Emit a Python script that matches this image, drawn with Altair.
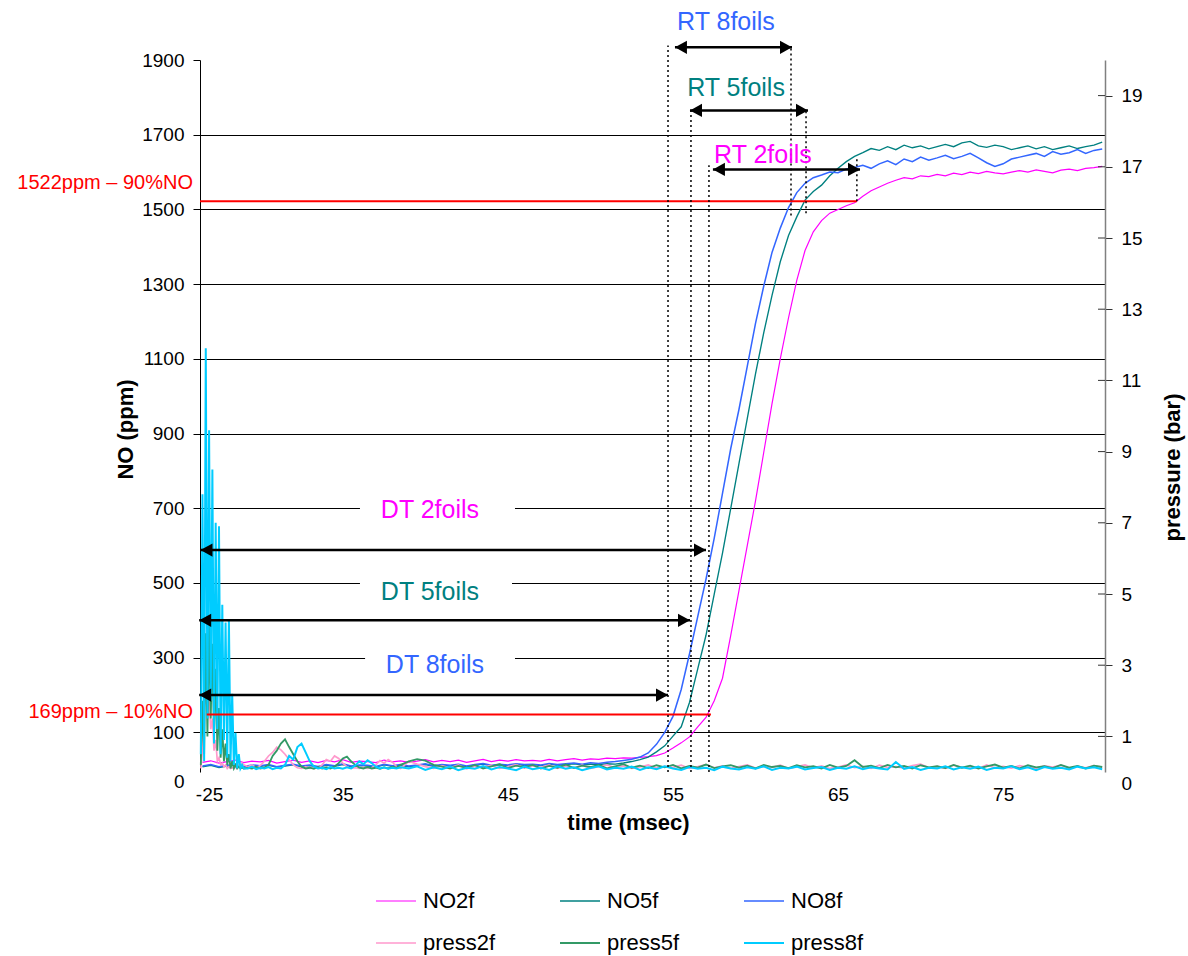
import altair as alt
import pandas as pd

FONT = "Liberation Sans"

# ---------------- NO concentration (ppm), sampled every 0.5 ms from 26.5 ms ----------------
NO_T0, NO_DT = 26.5, 0.5
NO2F = [
    20, 24, 18, 22, 26, 19, 23, 21, 25, 18,
    22, 26, 20, 24, 19, 25, 21, 27, 20, 23,
    22, 19, 26, 21, 24, 20, 23, 27, 21, 25,
    22, 26, 20, 24, 28, 22, 26, 23, 27, 24,
    25, 23, 28, 24, 27, 30, 26, 29, 28, 31,
    30, 32, 31, 33, 35, 38, 45, 58, 72, 88,
    115, 140, 185, 245, 360, 480, 600, 720, 850, 980,
    1100, 1210, 1310, 1390, 1440, 1470, 1490, 1500, 1510, 1518,
    1535, 1550, 1560, 1570, 1578, 1585, 1582, 1590, 1588, 1594,
    1590, 1597, 1593, 1600, 1596, 1602, 1598, 1595, 1600, 1604,
    1600, 1606, 1602, 1598, 1605, 1608, 1604, 1610, 1612, 1615]
NO5F = [
    8, 12, 6, 10, 13, 7, 11, 9, 12, 7,
    10, 13, 8, 11, 7, 12, 9, 14, 8, 11,
    10, 7, 13, 9, 12, 8, 11, 14, 9, 12,
    10, 13, 8, 12, 15, 10, 13, 11, 14, 12,
    13, 11, 15, 12, 14, 16, 13, 15, 14, 16,
    15, 18, 22, 27, 34, 48, 64, 90, 115, 180,
    270, 360, 470, 580, 700, 820, 940, 1060, 1170, 1270,
    1360, 1430, 1480, 1525, 1548, 1565, 1590, 1610, 1628, 1642,
    1652, 1663, 1658, 1668, 1660, 1672, 1665, 1670, 1662, 1668,
    1674, 1668, 1678, 1682, 1670, 1666, 1672, 1668, 1660, 1665,
    1670, 1662, 1668, 1660, 1665, 1670, 1663, 1668, 1672, 1680]
NO8F = [
    10, 14, 8, 12, 15, 9, 13, 11, 14, 8,
    12, 15, 10, 13, 9, 14, 11, 16, 10, 13,
    12, 9, 15, 11, 14, 10, 13, 16, 11, 14,
    12, 15, 10, 14, 17, 12, 15, 13, 16, 14,
    15, 13, 17, 14, 16, 18, 15, 19, 17, 20,
    22, 25, 28, 34, 45, 68, 100, 143, 215, 310,
    410, 510, 620, 740, 860, 965, 1080, 1195, 1295, 1385,
    1450, 1505, 1545, 1570, 1585, 1592, 1600, 1598, 1608, 1612,
    1618, 1610, 1622, 1630, 1620, 1635, 1628, 1640, 1632, 1638,
    1645, 1636, 1642, 1650, 1638, 1625, 1615, 1622, 1635, 1640,
    1645, 1650, 1642, 1655, 1648, 1652, 1660, 1650, 1658, 1662]

# ---------------- pressure (bar) ----------------
# 0.1 ms steps 26.4-29.0, 0.25 ms steps 29.25-38.5, 0.5 ms steps 39-81
P_TIME = ([round(26.4 + 0.1 * i, 2) for i in range(27)]
          + [round(29.25 + 0.25 * i, 2) for i in range(38)]
          + [round(39 + 0.5 * i, 2) for i in range(85)])
PRESS2F = [
    0.1, 0.6, 1.8, 2.3, 1.6, 2.1, 1.2, 1.5, 0.6, 0.9,
    0.3, 0.4, 0.2, 0.25, 0.15, 0.2, 0.1, 0.15, 0.1, 0.12,
    0.1, 0.14, 0.1, 0.2, 0.15, 0.25, 0.2,
    0.15, 0.2, 0.12, 0.18, 0.3, 0.45, 0.55, 0.7, 0.62, 0.5,
    0.35, 0.2, 0.12, 0.1, 0.15, 0.1, 0.13, 0.1, 0.2, 0.35,
    0.3, 0.45, 0.38, 0.25, 0.15, 0.1, 0.12, 0.1, 0.14, 0.1,
    0.12, 0.2, 0.32, 0.25, 0.35, 0.28, 0.15, 0.1,
    0.3, 0.22, 0.15, 0.1, 0.18, 0.12, 0.2, 0.09, 0.16, 0.13,
    0.19, 0.1, 0.15, 0.21, 0.11, 0.17, 0.13, 0.2, 0.1, 0.16,
    0.12, 0.19, 0.1, 0.15, 0.2, 0.12, 0.17, 0.1, 0.14, 0.2,
    0.11, 0.16, 0.13, 0.19, 0.1, 0.15, 0.21, 0.12, 0.17, 0.1,
    0.15, 0.2, 0.11, 0.16, 0.13, 0.19, 0.1, 0.15, 0.2, 0.12,
    0.17, 0.1, 0.14, 0.2, 0.12, 0.16, 0.1, 0.19, 0.13, 0.15,
    0.11, 0.18, 0.22, 0.12, 0.16, 0.1, 0.19, 0.13, 0.15, 0.1,
    0.2, 0.12, 0.16, 0.11, 0.18, 0.13, 0.1, 0.17, 0.14, 0.19,
    0.1, 0.16, 0.12, 0.18, 0.13]
PRESS5F = [
    0.2, 2.0, 0.5, 3.9, 1.0, 4.1, 1.5, 3.6, 1.0, 2.9,
    0.6, 1.8, 0.4, 1.2, 0.3, 0.8, 0.2, 0.5, 0.1, 0.3,
    0.1, 0.2, 0.1, 0.15, 0.1, 0.12, 0.1,
    0.12, 0.1, 0.15, 0.1, 0.12, 0.2, 0.45, 0.6, 0.8, 0.92,
    0.7, 0.5, 0.3, 0.15, 0.1, 0.12, 0.09, 0.14, 0.1, 0.13,
    0.1, 0.15, 0.25, 0.38, 0.43, 0.3, 0.2, 0.12, 0.1, 0.14,
    0.1, 0.12, 0.09, 0.13, 0.1, 0.15, 0.12, 0.2,
    0.3, 0.36, 0.32, 0.2, 0.15, 0.1, 0.17, 0.12, 0.2, 0.1,
    0.16, 0.22, 0.11, 0.18, 0.13, 0.2, 0.1, 0.17, 0.12, 0.21,
    0.11, 0.18, 0.14, 0.2, 0.1, 0.16, 0.22, 0.12, 0.18, 0.11,
    0.19, 0.13, 0.2, 0.1, 0.17, 0.12, 0.21, 0.11, 0.16, 0.19,
    0.12, 0.18, 0.1, 0.2, 0.14, 0.17, 0.11, 0.19, 0.13, 0.16,
    0.1, 0.2, 0.12, 0.17, 0.33, 0.14, 0.18, 0.11, 0.2, 0.13,
    0.17, 0.1, 0.19, 0.13, 0.16, 0.11, 0.2, 0.12, 0.18, 0.1,
    0.16, 0.21, 0.12, 0.17, 0.1, 0.19, 0.13, 0.16, 0.11, 0.2,
    0.12, 0.17, 0.1, 0.18, 0.14]
PRESS8F = [
    0.5, 7.8, 0.3, 11.9, 1.5, 9.6, 2.0, 8.5, 0.8, 7.0,
    1.2, 6.9, 0.5, 4.7, 0.9, 4.2, 0.4, 4.3, 0.3, 2.2,
    0.2, 1.1, 0.1, 0.5, 0.1, 0.2, 0.1,
    0.1, 0.15, 0.08, 0.12, 0.1, 0.14, 0.08, 0.12, 0.1, 0.2,
    0.45, 0.35, 0.7, 0.8, 0.55, 0.3, 0.15, 0.1, 0.12, 0.08,
    0.14, 0.1, 0.12, 0.09, 0.13, 0.1, 0.18, 0.3, 0.22, 0.33,
    0.25, 0.15, 0.1, 0.13, 0.09, 0.12, 0.1, 0.13,
    0.1, 0.16, 0.06, 0.13, 0.08, 0.15, 0.05, 0.12, 0.09, 0.17,
    0.07, 0.14, 0.1, 0.05, 0.15, 0.08, 0.12, 0.06, 0.16, 0.09,
    0.13, 0.05, 0.11, 0.16, 0.07, 0.12, 0.09, 0.15, 0.06, 0.13,
    0.08, 0.16, 0.1, 0.06, 0.14, 0.09, 0.12, 0.05, 0.15, 0.1,
    0.07, 0.13, 0.09, 0.16, 0.06, 0.12, 0.1, 0.15, 0.07, 0.11,
    0.14, 0.06, 0.12, 0.09, 0.16, 0.08, 0.13, 0.1, 0.07, 0.28,
    0.09, 0.14, 0.06, 0.12, 0.1, 0.16, 0.07, 0.13, 0.09, 0.15,
    0.06, 0.12, 0.1, 0.16, 0.08, 0.13, 0.05, 0.14, 0.09, 0.12,
    0.07, 0.15, 0.1, 0.13, 0.08]

SERIES = ["NO2f", "NO5f", "NO8f", "press2f", "press5f", "press8f"]
COLORS = ["#FF00FF", "#008080", "#3366FF", "#FF99CC", "#339966", "#00CCFF"]
WIDTHS = [1.2, 2, 2, 2.5, 2.5, 2.5]

# axis ticks
X_TICKS = [26.9, 35, 45, 55, 65, 75]
YL_TICKS = [0, 100, 300, 500, 700, 900, 1100, 1300, 1500, 1700, 1900]
YR_TICKS = [0, 1, 3, 5, 7, 9, 11, 13, 15, 17, 19]

# ---------------- annotations ----------------
REF_LABEL = ["1522ppm \u2013 90%NO", "169ppm \u2013 10%NO"]
REF_PPM = [1522, 148]
REF_T0 = [26.35, 26.76]
REF_T1 = [66.14, 57.3]
REF_LABEL_PPM = [1570, 154]

DOT_T = [54.70, 56.09, 57.18, 62.15, 63.06, 66.14]
DOT_LO = [-6, -6, -6, 1484, 1490, 1522]
DOT_HI = [1939, 1773, 1618, 1939, 1765, 1640]

ARROW_T0 = [55.12, 56.03, 57.42, 26.38, 26.3, 26.3]
ARROW_T1 = [62.21, 63.18, 66.33, 57.0, 56.03, 54.70]
ARROW_PPM = [1934, 1765, 1607, 588, 400, 200]

LABEL_TEXT = ["RT 8foils", "RT 5foils", "RT 2foils", "DT 2foils", "DT 5foils", "DT 8foils"]
LABEL_T = [58.21, 58.82, 60.45, 40.28, 40.28, 40.58]
LABEL_PPM = [2001, 1825, 1645, 695, 475, 280]
LABEL_COLOR = ["#3366FF", "#008080", "#FF00FF", "#FF00FF", "#008080", "#3366FF"]

BOX_T0 = [36.04, 36.04, 36.35]
BOX_T1 = [45.43, 45.25, 45.43]
BOX_LO = [660, 440, 245]
BOX_HI = [730, 510, 315]

# ---------------- frames ----------------
n = len(NO2F)
no_time = [round(NO_T0 + NO_DT * i, 2) for i in range(n)]
no_df = pd.DataFrame({
    "t": no_time * 3,
    "value": NO2F + NO5F + NO8F,
    "series": ["NO2f"] * n + ["NO5f"] * n + ["NO8f"] * n,
})
m = len(P_TIME)
p_df = pd.DataFrame({
    "t": P_TIME * 3,
    "value": PRESS2F + PRESS5F + PRESS8F,
    "series": ["press2f"] * m + ["press5f"] * m + ["press8f"] * m,
})
rtick_df = pd.DataFrame({"value": YR_TICKS[1:]})
ref_df = pd.DataFrame({"label": REF_LABEL, "ppm": REF_PPM, "t": REF_T0, "t2": REF_T1, "lp": REF_LABEL_PPM})
dot_df = pd.DataFrame({"t": DOT_T, "lo": DOT_LO, "hi": DOT_HI})
arrow_df = pd.DataFrame({"t": ARROW_T0, "t2": ARROW_T1, "ppm": ARROW_PPM})
label_df = pd.DataFrame({"text": LABEL_TEXT, "t": LABEL_T, "ppm": LABEL_PPM, "c": LABEL_COLOR})
box_df = pd.DataFrame({"t": BOX_T0, "t2": BOX_T1, "lo": BOX_LO, "hi": BOX_HI})


def cond(test, a, b):
    return {"condition": {"test": test, "value": a}, "value": b}


x_scale = alt.Scale(domain=[26.35, 81.17], nice=False, zero=False)
x_axis = alt.Axis(
    values=X_TICKS, labelExpr="datum.value < 30 ? '-25' : datum.label",
    domain=False, ticks=False, tickSize=0, grid=False,
    labelFont=FONT, labelFontSize=19, labelColor="black", labelPadding=13,
    title="time (msec)", titleFont=FONT, titleFontSize=22, titleFontWeight="bold",
    titleColor="black", titleX=428, titleY=50, titleAlign="center", titleBaseline="middle",
)
X = alt.X("t:Q", scale=x_scale, axis=x_axis)

yl_scale = alt.Scale(domain=[-6, 1900], nice=False, zero=False)
yl_axis = alt.Axis(
    values=YL_TICKS, format="d", grid=True, gridColor="black", gridWidth=1,
    gridOpacity=cond("datum.value == 0 || datum.value == 1900", 0, 1),
    tickColor="black", tickSize=7, tickWidth=1,
    tickOpacity=cond("datum.value == 0", 0, 1),
    labelOffset=cond("datum.value == 0", 12, 0),
    domainColor="black", domainWidth=1,
    labelFont=FONT, labelFontSize=19, labelColor="black", labelPadding=9,
    title="NO (ppm)", titleFont=FONT, titleFontSize=22, titleFontWeight="bold", titleColor="black",
    titleAngle=270, titleX=-75, titleY=369, titleAlign="center", titleBaseline="middle",
)
yr_scale = alt.Scale(domain=[0, 20], nice=False, zero=False)
yr_axis = alt.Axis(
    orient="right", values=YR_TICKS, format="d", grid=False,
    tickColor="#333333", tickSize=7, tickWidth=1,
    tickOpacity=cond("datum.value == 0", 0, 1),
    labelOffset=cond("datum.value == 0", 11, 0),
    domainColor="#808080", domainWidth=1.5,
    labelFont=FONT, labelFontSize=19, labelColor="black", labelPadding=9,
    title="pressure (bar)", titleFont=FONT, titleFontSize=22, titleFontWeight="bold", titleColor="black",
    titleAngle=270, titleX=67, titleY=407, titleAlign="center", titleBaseline="middle",
)

legend = alt.Legend(
    title=None, orient="none", legendX=175, legendY=820, direction="horizontal", columns=3,
    symbolType="stroke", symbolSize=1600, symbolStrokeWidth=2,
    labelFont=FONT, labelFontSize=22, labelColor="black", labelOffset=6,
    columnPadding=60, rowPadding=10, labelLimit=300,
)
color = alt.Color("series:N", scale=alt.Scale(domain=SERIES, range=COLORS), legend=legend)
swidth = alt.StrokeWidth("series:N", scale=alt.Scale(domain=SERIES, range=WIDTHS), legend=None)

# ---------- left (NO) group ----------
no_lines = alt.Chart(no_df).mark_line(interpolate="linear").encode(
    x=X, y=alt.Y("value:Q", scale=yl_scale, axis=yl_axis), color=color, strokeWidth=swidth,
    detail="series:N",
)
left_group = alt.layer(no_lines)

# ---------- right (pressure) group ----------
p_lines = alt.Chart(p_df).mark_line(interpolate="linear").encode(
    x=X, y=alt.Y("value:Q", scale=yr_scale, axis=yr_axis), color=color, strokeWidth=swidth,
    detail="series:N",
)
inner_ticks = alt.Chart(rtick_df).mark_rule(color="#333333", strokeWidth=1).encode(
    x=alt.value(898), x2=alt.value(905), y=alt.Y("value:Q", scale=yr_scale, axis=yr_axis),
)
right_group = alt.layer(p_lines, inner_ticks)

# ---------- annotation group (NO scale, no axis) ----------
ya_scale = alt.Scale(domain=[-6, 1900], nice=False, zero=False)

boxes = alt.Chart(box_df).mark_rect(color="white").encode(
    x=X, x2="t2:Q", y=alt.Y("lo:Q", scale=ya_scale, axis=None), y2="hi:Q",
)
ref_lines = alt.Chart(ref_df).mark_rule(color="#FF0000", strokeWidth=2).encode(
    x=X, x2="t2:Q", y=alt.Y("ppm:Q", scale=ya_scale, axis=None),
)
ref_labels = alt.Chart(ref_df).mark_text(
    align="right", baseline="middle", color="#FF0000", font=FONT, fontSize=20,
).encode(x=alt.value(-7), y=alt.Y("lp:Q", scale=ya_scale, axis=None), text="label:N")
dots = alt.Chart(dot_df).mark_rule(color="black", strokeWidth=1.5, strokeDash=[2, 3]).encode(
    x=X, y=alt.Y("lo:Q", scale=ya_scale, axis=None), y2="hi:Q",
)
shafts = alt.Chart(arrow_df).mark_rule(color="black", strokeWidth=2.5).encode(
    x=X, x2="t2:Q", y=alt.Y("ppm:Q", scale=ya_scale, axis=None),
)
head_r = alt.Chart(arrow_df).mark_point(
    shape="M0,0L-1,-0.55L-1,0.55Z", filled=True, color="black", opacity=1, size=576, strokeWidth=0,
).encode(x=alt.X("t2:Q", scale=x_scale, axis=x_axis), y=alt.Y("ppm:Q", scale=ya_scale, axis=None))
head_l = alt.Chart(arrow_df).mark_point(
    shape="M0,0L1,-0.55L1,0.55Z", filled=True, color="black", opacity=1, size=576, strokeWidth=0,
).encode(x=X, y=alt.Y("ppm:Q", scale=ya_scale, axis=None))
labels = alt.Chart(label_df).mark_text(
    align="center", baseline="middle", font=FONT, fontSize=25,
).encode(
    x=X, y=alt.Y("ppm:Q", scale=ya_scale, axis=None), text="text:N",
    color=alt.Color("c:N", scale=None),
)
annot_group = alt.layer(boxes, ref_lines, ref_labels, dots, shafts, head_r, head_l, labels)

chart = alt.layer(left_group, right_group, annot_group).resolve_scale(
    y="independent"
).properties(
    width=905, height=712,
    padding={"left": 200, "top": 60, "right": 83, "bottom": 184},
    autosize=alt.AutoSizeParams(type="none"),
    background="white",
).configure_view(stroke=None)

chart.save("out.html", embed_options={"renderer": "svg", "actions": False})
